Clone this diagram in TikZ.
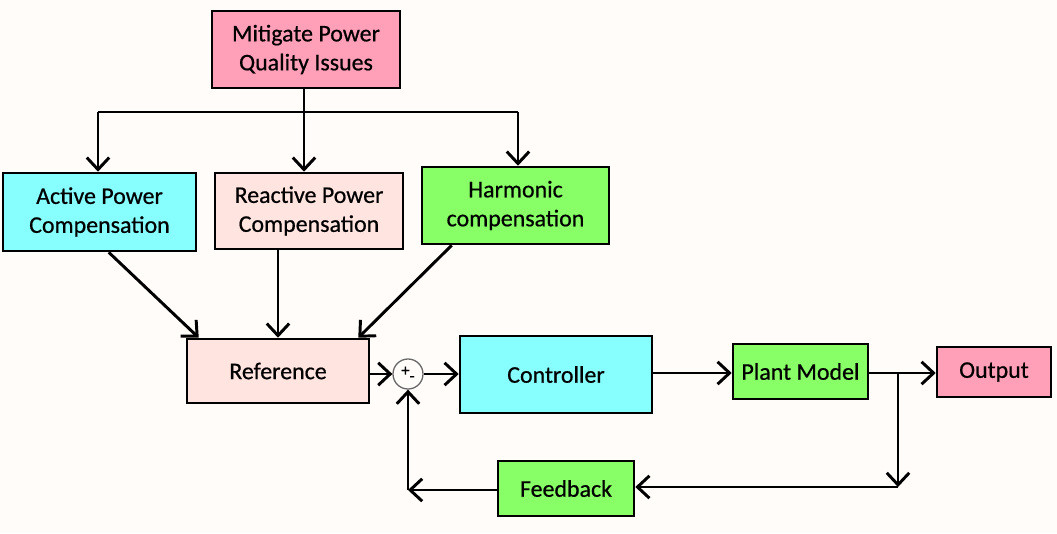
\documentclass[tikz,border=0pt]{standalone}
\usepackage{fontspec}
\setmainfont{Carlito}[FakeBold=0.6]
\usetikzlibrary{positioning,arrows.meta,calc}

\definecolor{qpink}{HTML}{FFA0B8}
\definecolor{qcyan}{HTML}{88FFFF}
\definecolor{qrose}{HTML}{FFE4E0}
\definecolor{qgreen}{HTML}{88FF66}
\definecolor{qpaper}{HTML}{FFFCFA}

\begin{document}
\begin{tikzpicture}[
    x=0.025cm, y=-0.025cm,
    every node/.style={font=\fontsize{17}{20.6}\selectfont},
    block/.style={draw, line width=1.8pt, rectangle, align=center, inner sep=0pt},
    arrow/.style={-{Straight Barb[length=3mm,width=5.6mm]}, line width=2.1pt},
    link/.style={line width=2.1pt}
]
\fill[qpaper] (0,0) rectangle (1057,533);
\useasboundingbox (0,0) rectangle (1057,533);

% top of the tree
\node[block, fill=qpink, minimum width=4.7cm, minimum height=1.925cm] (mitigate) at (306,49.5) {Mitigate Power\\Quality Issues};
\node[block, fill=qcyan, minimum width=4.825cm, minimum height=1.95cm] (active) at (99.5,212) {Active Power\\Compensation};
\node[block, fill=qrose, minimum width=4.7cm, minimum height=1.9cm] (reactive) at (309,211) {Reactive Power\\Compensation};
\node[block, fill=qgreen, minimum width=4.675cm, minimum height=1.925cm] (harmonic) at (515.5,205.5) {Harmonic\\compensation};

% control loop
\node[block, fill=qrose, minimum width=4.55cm, minimum height=1.6cm] (reference) at (278,371) {Reference};
\node[draw=black!60, line width=0.9pt, circle, minimum size=0.75cm, inner sep=0pt, font=\fontsize{12}{12}\selectfont] (sum) at (408,374) {+\raisebox{-4pt}{-}};
\node[block, fill=qcyan, minimum width=4.8cm, minimum height=1.925cm] (controller) at (556,374.5) {Controller};
\node[block, fill=qgreen, minimum width=3.375cm, minimum height=1.375cm] (plant) at (800.5,371.5) {Plant Model};
\node[block, fill=qpink, minimum width=2.85cm, minimum height=1.25cm] (output) at (994,372) {Output};
\node[block, fill=qgreen, minimum width=3.4cm, minimum height=1.375cm] (feedback) at (566,488.5) {Feedback};

\coordinate (split) at (304,112);
\coordinate (splitL) at (98,112);
\coordinate (splitR) at (518,112);
\coordinate (branch) at (898,373);
\coordinate (corner) at (898,487);
\coordinate (back) at (408,490);

% tree arrows
\draw[link] (split |- mitigate.south) -- (split);
\draw[link] (splitL) -- (splitR);
\draw[arrow] (splitL) -- (splitL |- active.north);
\draw[arrow] (split) -- (split |- reactive.north);
\draw[arrow] (splitR) -- (splitR |- harmonic.north);
\draw[arrow] ($(active.south west)+(107,0)$) -- ($(reference.north west)+(13,0)$);
\draw[arrow] (reference.north |- reactive.south) -- (reference.north);
\draw[arrow] ($(harmonic.south west)+(31,0)$) -- ($(reference.north east)+(-12,0)$);

% loop arrows
\draw[arrow] (reference.east |- sum) -- (sum.west);
\draw[arrow] (sum.east) -- (controller.west |- sum);
\draw[arrow] (controller.east |- branch) -- (plant.west |- branch);
\draw[arrow] (plant.east |- branch) -- (output.west |- branch);
\draw[arrow] (branch) -- (corner);
\draw[arrow] (corner) -- (feedback.east |- corner);
\draw[arrow] (feedback.west |- back) -- (back);
\draw[arrow] (back) -- (sum.south);
\end{tikzpicture}
\end{document}
